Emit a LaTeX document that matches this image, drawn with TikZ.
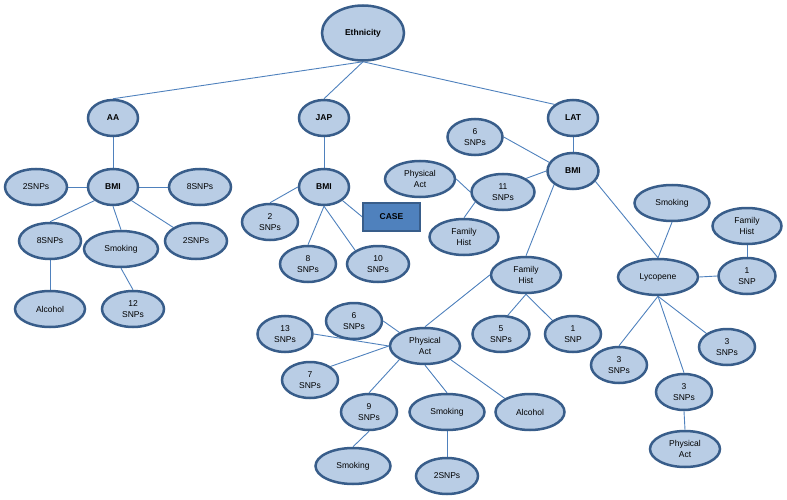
\documentclass[tikz,border=0pt]{standalone}
\usepackage{fontspec}
\setmainfont{Liberation Sans}
\usetikzlibrary{shapes.geometric,backgrounds}
\definecolor{bubfill}{HTML}{B9CDE5}
\definecolor{bubedge}{HTML}{385D8A}
\definecolor{linkcol}{HTML}{4F81BD}
\begin{document}
\begin{tikzpicture}[x=1pt, y=-1pt,
  bub/.style={ellipse, draw=bubedge, fill=bubfill, line width=2.5pt, inner sep=0pt,
    minimum height=36pt, minimum width=56pt, align=center,
    font=\fontsize{8.5}{10.5}\selectfont},
  hd/.style={bub, font=\fontsize{8.5}{10.5}\selectfont\bfseries, minimum width=50pt},
  casebox/.style={rectangle, draw=bubedge, fill=linkcol, line width=1.2pt,
    minimum width=57pt, minimum height=28pt, font=\fontsize{8.5}{10.5}\selectfont\bfseries},
  link/.style={draw=linkcol, line width=0.9pt}]
  \useasboundingbox (0,0) rectangle (787,500);
  \node[hd, minimum width=82pt, minimum height=55pt] (eth) at (363,33) {Ethnicity};
  \node[hd] (aa) at (113,118) {AA};
  \node[hd] (jap) at (324,118) {JAP};
  \node[hd] (lat) at (573,118) {LAT};
  \node[hd] (aabmi) at (113,187) {BMI};
  \node[bub, minimum width=62pt] (aa2l) at (36,187) {2SNPs};
  \node[bub, minimum width=62pt] (aa8r) at (200,187) {8SNPs};
  \node[bub, minimum width=62pt] (aa8) at (50,241) {8SNPs};
  \node[bub, minimum width=74pt] (aasmk) at (121,249) {Smoking};
  \node[bub, minimum width=62pt] (aa2) at (196,241) {2SNPs};
  \node[bub, minimum width=70pt] (aaalc) at (50,309) {Alcohol};
  \node[bub, minimum width=62pt] (aa12) at (133,309) {12\\SNPs};
  \node[hd] (japbmi) at (324,187) {BMI};
  \node[bub] (jap2) at (270,222) {2\\SNPs};
  \node[bub] (jap8) at (308,264) {8\\SNPs};
  \node[bub, minimum width=62pt] (jap10) at (378,264) {10\\SNPs};
  \node[casebox] (case) at (391.5,217) {CASE};
  \node[hd, minimum width=51pt] (latbmi) at (573,171) {BMI};
  \node[bub, minimum width=55pt] (lat6) at (475,137) {6\\SNPs};
  \node[bub, minimum width=70pt] (phys1) at (420,179) {Physical\\Act};
  \node[bub, minimum width=63pt] (lat11) at (503,192) {11\\SNPs};
  \node[bub, minimum width=69pt] (fam1) at (464,237) {Family\\Hist};
  \node[bub, minimum width=70pt] (fam2) at (526,275) {Family\\Hist};
  \node[bub, minimum width=57pt] (fam2a) at (501,334) {5\\SNPs};
  \node[bub] (fam2b) at (573,334) {1\\SNP};
  \node[bub, minimum width=70pt] (phys2) at (425,346) {Physical\\Act};
  \node[bub] (pa6) at (354,321) {6\\SNPs};
  \node[bub, minimum width=55pt] (pa13) at (285,334) {13\\SNPs};
  \node[bub] (pa7) at (310,380) {7\\SNPs};
  \node[bub] (pa9) at (369,412) {9\\SNPs};
  \node[bub, minimum width=75pt] (pasmk) at (447,412) {Smoking};
  \node[bub, minimum width=69pt] (paalc) at (530,412) {Alcohol};
  \node[bub, minimum width=75pt] (smk9) at (353,466) {Smoking};
  \node[bub, minimum width=62pt] (smk2) at (447,476) {2SNPs};
  \node[bub, minimum width=80pt] (lyc) at (658,277) {Lycopene};
  \node[bub, minimum width=75pt] (lycsmk) at (672,203) {Smoking};
  \node[bub, minimum width=57pt] (lyc1) at (747,276) {1\\SNP};
  \node[bub, minimum width=69pt] (lycfam) at (747,226) {Family\\Hist};
  \node[bub] (lyc3a) at (619,365) {3\\SNPs};
  \node[bub] (lyc3b) at (684,392) {3\\SNPs};
  \node[bub] (lyc3c) at (727,347) {3\\SNPs};
  \node[bub, minimum width=70pt] (lycpa) at (685,449) {Physical\\Act};
  \begin{scope}[on background layer]
  \draw[link] (eth.south) -- (aa.north);
  \draw[link] (eth.south) -- (jap.north);
  \draw[link] (eth.south) -- (lat.north west);
  \draw[link] (aa.south) -- (aabmi.north);
  \draw[link] (aabmi.west) -- (aa2l.east);
  \draw[link] (aabmi.east) -- (aa8r.west);
  \draw[link] (aabmi.south west) -- (aa8.north);
  \draw[link] (aabmi.south) -- (aasmk.north);
  \draw[link] (aabmi.south east) -- (aa2.north west);
  \draw[link] (aa8.south) -- (aaalc.north);
  \draw[link] (aasmk.south) -- (aa12.north);
  \draw[link] (jap.south) -- (japbmi.north);
  \draw[link] (japbmi.west) -- (jap2.north);
  \draw[link] (japbmi.south) -- (jap8.north);
  \draw[link] (japbmi.south) -- (jap10.north west);
  \draw[link] (japbmi.south east) -- (case.west);
  \draw[link] (lat.south) -- (latbmi.north);
  \draw[link] (lat6.east) -- (latbmi.160);
  \draw[link] (lat11.north east) -- (latbmi.west);
  \draw[link] (phys1.east) -- (lat11.west);
  \draw[link] (fam1.north) -- (lat11.200);
  \draw[link] (latbmi.south west) -- (fam2.north);
  \draw[link] (latbmi.-25) -- (lyc.north);
  \draw[link] (lycsmk.south) -- (lyc.north);
  \draw[link] (lyc.east) -- (lyc1.west);
  \draw[link] (lyc1.north) -- (lycfam.south);
  \draw[link] (lyc.south) -- (lyc3a.north);
  \draw[link] (lyc.south) -- (lyc3b.north);
  \draw[link] (lyc.south) -- (lyc3c.north west);
  \draw[link] (lyc3b.south) -- (lycpa.north);
  \draw[link] (fam2.west) -- (phys2.north);
  \draw[link] (fam2.south) -- (fam2a.70);
  \draw[link] (fam2.south) -- (fam2b.north west);
  \draw[link] (pa6.east) -- (phys2.north west);
  \draw[link] (pa13.east) -- (phys2.west);
  \draw[link] (pa7.north east) -- (phys2.west);
  \draw[link] (pa9.north) -- (phys2.south west);
  \draw[link] (phys2.south) -- (pasmk.north);
  \draw[link] (phys2.south east) -- (paalc.north west);
  \draw[link] (pa9.south) -- (smk9.north);
  \draw[link] (pasmk.south) -- (smk2.north);
  \end{scope}
\end{tikzpicture}
\end{document}
